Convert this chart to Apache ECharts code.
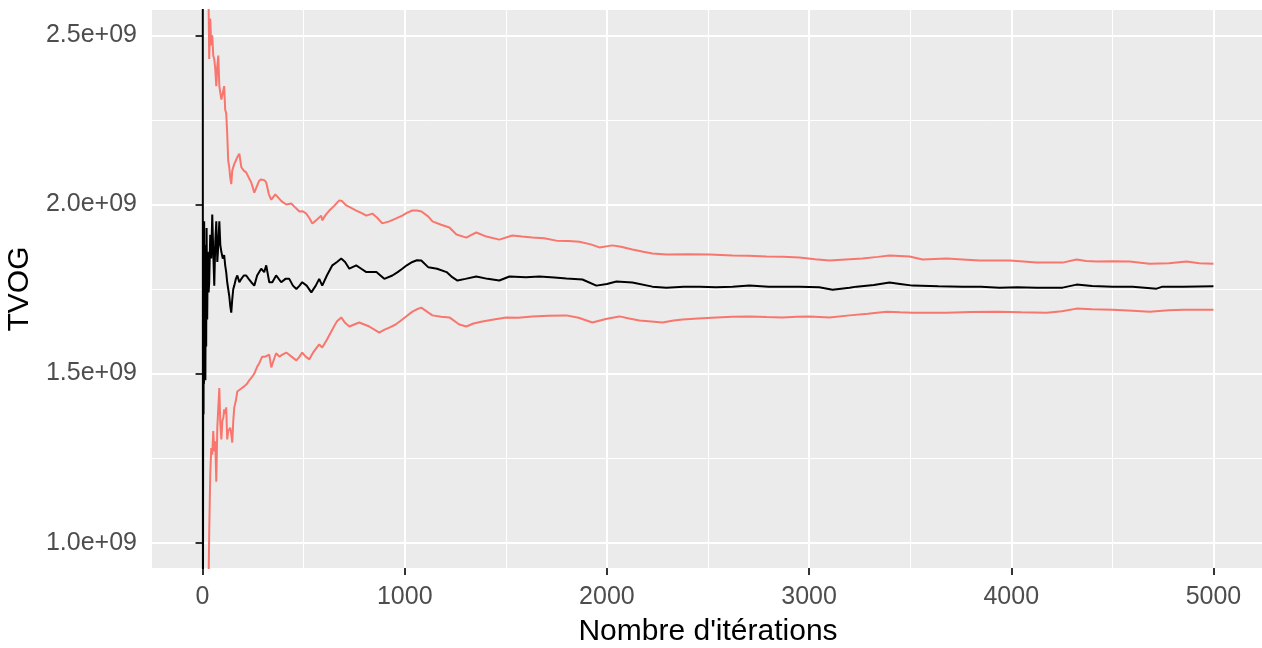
<!DOCTYPE html>
<html>
<head>
<meta charset="utf-8">
<title>TVOG</title>
<script src="https://cdn.jsdelivr.net/npm/echarts@6/dist/echarts.min.js"></script>
<style>
  html, body { margin: 0; padding: 0; background: #ffffff; }
  #chart { width: 1262px; height: 648px; }
</style>
</head>
<body>
<div id="chart"></div>
<script>
// Running estimate of the TVOG (in units of 1e9) and its confidence bounds,
// by number of simulated iterations.
const meanIter = [1, 2, 3, 4, 5, 6, 7, 8, 10, 12, 14, 16, 18, 20, 23, 26, 30, 33, 38, 43, 48, 53, 58, 63, 68, 73, 78, 83, 88, 93, 100, 107, 112, 117, 122, 127, 132, 137, 142, 147, 152, 157, 165, 172, 182, 192, 204, 216, 228, 241, 256, 270, 290, 305, 315, 330, 345, 364, 389, 410, 429, 447, 464, 480, 493, 515, 538, 560, 577, 592, 615, 642, 665, 686, 705, 726, 760, 785, 810, 835, 860, 880, 899, 939, 965, 988, 1010, 1038, 1060, 1082, 1117, 1160, 1207, 1235, 1261, 1300, 1354, 1410, 1468, 1518, 1600, 1666, 1740, 1800, 1879, 1948, 2000, 2047, 2126, 2225, 2294, 2380, 2458, 2540, 2621, 2705, 2800, 2952, 3050, 3116, 3200, 3235, 3320, 3398, 3450, 3512, 3640, 3759, 3850, 3942, 4030, 4125, 4254, 4323, 4400, 4501, 4600, 4719, 4748, 4850, 5000];
const meanVal = [3.30, 0.70, 1.36, 1.62, 1.38, 1.90, 1.47, 1.95, 1.52, 1.88, 1.48, 1.82, 1.58, 1.93, 1.66, 1.86, 1.74, 1.77, 1.91, 1.84, 1.97, 1.86, 1.76, 1.89, 1.95, 1.83, 1.88, 1.95, 1.88, 1.86, 1.84, 1.85, 1.82, 1.80, 1.77, 1.75, 1.73, 1.70, 1.68, 1.72, 1.75, 1.76, 1.78, 1.79, 1.77, 1.78, 1.79, 1.79, 1.78, 1.77, 1.76, 1.79, 1.81, 1.80, 1.82, 1.77, 1.77, 1.79, 1.77, 1.78, 1.78, 1.76, 1.75, 1.76, 1.77, 1.76, 1.74, 1.76, 1.78, 1.76, 1.79, 1.82, 1.83, 1.84, 1.83, 1.81, 1.82, 1.81, 1.80, 1.80, 1.80, 1.79, 1.78, 1.79, 1.80, 1.81, 1.82, 1.83, 1.835, 1.834, 1.814, 1.81, 1.80, 1.785, 1.775, 1.78, 1.787, 1.78, 1.775, 1.787, 1.785, 1.787, 1.784, 1.781, 1.778, 1.760, 1.765, 1.772, 1.769, 1.757, 1.754, 1.757, 1.757, 1.755, 1.757, 1.760, 1.757, 1.757, 1.755, 1.748, 1.754, 1.757, 1.762, 1.769, 1.765, 1.760, 1.758, 1.757, 1.757, 1.754, 1.755, 1.754, 1.754, 1.763, 1.759, 1.757, 1.757, 1.751, 1.757, 1.757, 1.758];

const upperIter = [28, 33, 38, 43, 48, 53, 58, 63, 68, 73, 78, 83, 88, 93, 100, 107, 112, 117, 122, 127, 132, 137, 142, 147, 157, 165, 172, 182, 192, 204, 216, 228, 241, 256, 266, 280, 290, 305, 315, 328, 340, 360, 390, 414, 439, 460, 479, 496, 513, 528, 543, 565, 587, 592, 610, 627, 650, 676, 690, 711, 735, 760, 785, 810, 840, 865, 889, 924, 955, 988, 1010, 1038, 1060, 1083, 1117, 1137, 1180, 1221, 1256, 1305, 1330, 1354, 1404, 1468, 1532, 1580, 1631, 1690, 1750, 1810, 1864, 1920, 1963, 2027, 2070, 2126, 2180, 2225, 2294, 2400, 2507, 2621, 2700, 2789, 2870, 2952, 3030, 3101, 3180, 3264, 3340, 3398, 3497, 3561, 3620, 3680, 3760, 3843, 3920, 3992, 4060, 4125, 4254, 4323, 4370, 4422, 4500, 4585, 4684, 4780, 4867, 4930, 5000];
const upperVal = [2.70, 2.43, 2.55, 2.47, 2.50, 2.44, 2.43, 2.40, 2.35, 2.41, 2.44, 2.35, 2.33, 2.31, 2.33, 2.35, 2.28, 2.27, 2.21, 2.13, 2.11, 2.08, 2.06, 2.10, 2.12, 2.13, 2.14, 2.15, 2.11, 2.10, 2.095, 2.08, 2.065, 2.035, 2.05, 2.07, 2.074, 2.072, 2.065, 2.03, 2.014, 2.03, 2.010, 2.00, 2.003, 1.99, 1.979, 1.98, 1.973, 1.96, 1.944, 1.955, 1.967, 1.953, 1.97, 1.982, 1.995, 2.012, 2.01, 1.997, 1.99, 1.982, 1.975, 1.967, 1.973, 1.96, 1.944, 1.950, 1.958, 1.967, 1.975, 1.982, 1.982, 1.979, 1.964, 1.950, 1.94, 1.932, 1.911, 1.902, 1.91, 1.917, 1.905, 1.896, 1.908, 1.905, 1.902, 1.900, 1.893, 1.892, 1.890, 1.882, 1.873, 1.879, 1.875, 1.867, 1.860, 1.855, 1.852, 1.853, 1.852, 1.849, 1.848, 1.846, 1.845, 1.843, 1.838, 1.834, 1.837, 1.840, 1.845, 1.849, 1.846, 1.837, 1.839, 1.840, 1.837, 1.834, 1.834, 1.834, 1.831, 1.828, 1.828, 1.837, 1.833, 1.831, 1.832, 1.831, 1.825, 1.826, 1.831, 1.826, 1.825];

const lowerIter = [28, 33, 38, 43, 48, 53, 58, 63, 68, 73, 78, 83, 88, 93, 98, 103, 107, 112, 117, 122, 127, 137, 142, 147, 152, 157, 165, 172, 190, 206, 220, 231, 245, 256, 270, 280, 295, 310, 330, 340, 352, 364, 380, 395, 414, 440, 464, 480, 493, 510, 528, 550, 577, 592, 615, 642, 665, 686, 705, 726, 750, 775, 800, 825, 850, 874, 900, 924, 955, 988, 1010, 1038, 1060, 1082, 1117, 1137, 1180, 1221, 1270, 1305, 1340, 1384, 1440, 1503, 1560, 1631, 1710, 1800, 1860, 1928, 2000, 2062, 2110, 2161, 2220, 2275, 2330, 2374, 2450, 2542, 2620, 2705, 2790, 2868, 2940, 3002, 3101, 3200, 3290, 3383, 3450, 3512, 3600, 3680, 3800, 3927, 4050, 4175, 4250, 4323, 4400, 4501, 4600, 4684, 4780, 4850, 5000];
const lowerVal = [0.80, 1.03, 1.20, 1.28, 1.26, 1.33, 1.27, 1.30, 1.18, 1.34, 1.40, 1.457, 1.35, 1.305, 1.36, 1.37, 1.394, 1.38, 1.40, 1.305, 1.33, 1.34, 1.32, 1.296, 1.36, 1.40, 1.42, 1.447, 1.455, 1.462, 1.47, 1.48, 1.49, 1.50, 1.52, 1.53, 1.55, 1.55, 1.556, 1.518, 1.54, 1.56, 1.55, 1.556, 1.562, 1.55, 1.539, 1.55, 1.562, 1.55, 1.542, 1.565, 1.586, 1.577, 1.60, 1.630, 1.655, 1.666, 1.65, 1.639, 1.645, 1.651, 1.645, 1.639, 1.63, 1.621, 1.63, 1.636, 1.645, 1.660, 1.67, 1.683, 1.69, 1.695, 1.680, 1.672, 1.668, 1.666, 1.645, 1.639, 1.648, 1.654, 1.66, 1.666, 1.665, 1.669, 1.671, 1.672, 1.665, 1.651, 1.662, 1.669, 1.663, 1.657, 1.654, 1.651, 1.657, 1.660, 1.663, 1.666, 1.668, 1.669, 1.667, 1.666, 1.668, 1.669, 1.666, 1.672, 1.677, 1.683, 1.681, 1.680, 1.680, 1.680, 1.682, 1.683, 1.681, 1.680, 1.684, 1.692, 1.690, 1.689, 1.686, 1.683, 1.687, 1.689, 1.689];

// Axis ticks
const xTicks = [0, 1000, 2000, 3000, 4000, 5000];
const yTicks = [1.0e9, 1.5e9, 2.0e9, 2.5e9];

const UNIT = 1e9;
const toPairs = (xs, ys) => xs.map((x, i) => [x, ys[i] * UNIT]);

function sci(v) {
  const e = Math.floor(Math.log10(Math.abs(v)) + 1e-9);
  const m = v / Math.pow(10, e);
  const sign = e < 0 ? '-' : '+';
  return m.toFixed(1) + 'e' + sign + String(Math.abs(e)).padStart(2, '0');
}

const FONT = '"Liberation Sans", Arial, sans-serif';
const RED = '#F8766D';

const chart = echarts.init(document.getElementById('chart'), null, { renderer: 'canvas' });

chart.setOption({
  animation: false,
  backgroundColor: '#ffffff',
  grid: {
    left: 152,
    top: 10,
    width: 1112,
    height: 558,
    show: true,
    backgroundColor: '#EBEBEB',
    borderWidth: 0,
    containLabel: false,
    outerBoundsMode: 'none'
  },
  xAxis: {
    type: 'value',
    min: -250,
    max: 5250,
    name: "Nombre d'itérations",
    nameLocation: 'middle',
    nameGap: 49,
    nameTextStyle: { color: '#000000', fontSize: 30, fontFamily: FONT },
    axisLine: { show: false },
    axisTick: {
      show: true, length: 7, customValues: xTicks,
      lineStyle: { color: '#333333', width: 2 }
    },
    axisLabel: {
      show: true, customValues: xTicks, margin: 17,
      color: '#4D4D4D', fontSize: 25, fontFamily: FONT,
      formatter: v => String(v)
    },
    splitLine: { show: true, lineStyle: { color: '#ffffff', width: 2 } },
    minorTick: { show: false, splitNumber: 2 },
    minorSplitLine: { show: true, lineStyle: { color: '#ffffff', width: 1 } }
  },
  yAxis: {
    type: 'value',
    min: 0.925e9,
    max: 2.575e9,
    splitNumber: 3,
    name: 'TVOG',
    nameLocation: 'middle',
    nameGap: 116,
    nameTextStyle: { color: '#000000', fontSize: 30, fontFamily: FONT },
    axisLine: { show: false },
    axisTick: {
      show: true, length: 7, customValues: yTicks,
      lineStyle: { color: '#333333', width: 2 }
    },
    axisLabel: {
      show: true, customValues: yTicks, margin: 15,
      color: '#4D4D4D', fontSize: 25, fontFamily: FONT,
      formatter: v => sci(v)
    },
    splitLine: { show: true, lineStyle: { color: '#ffffff', width: 2 } },
    minorTick: { show: false, splitNumber: 2 },
    minorSplitLine: { show: true, lineStyle: { color: '#ffffff', width: 1 } }
  },
  series: [
    {
      name: 'mean', type: 'line', data: toPairs(meanIter, meanVal),
      showSymbol: false, symbol: 'none', clip: true,
      lineStyle: { color: '#000000', width: 2 }, z: 3
    },
    {
      name: 'upper', type: 'line', data: toPairs(upperIter, upperVal),
      showSymbol: false, symbol: 'none', clip: true,
      lineStyle: { color: RED, width: 2 }, z: 2
    },
    {
      name: 'lower', type: 'line', data: toPairs(lowerIter, lowerVal),
      showSymbol: false, symbol: 'none', clip: true,
      lineStyle: { color: RED, width: 2 }, z: 2
    }
  ]
});
</script>
</body>
</html>
